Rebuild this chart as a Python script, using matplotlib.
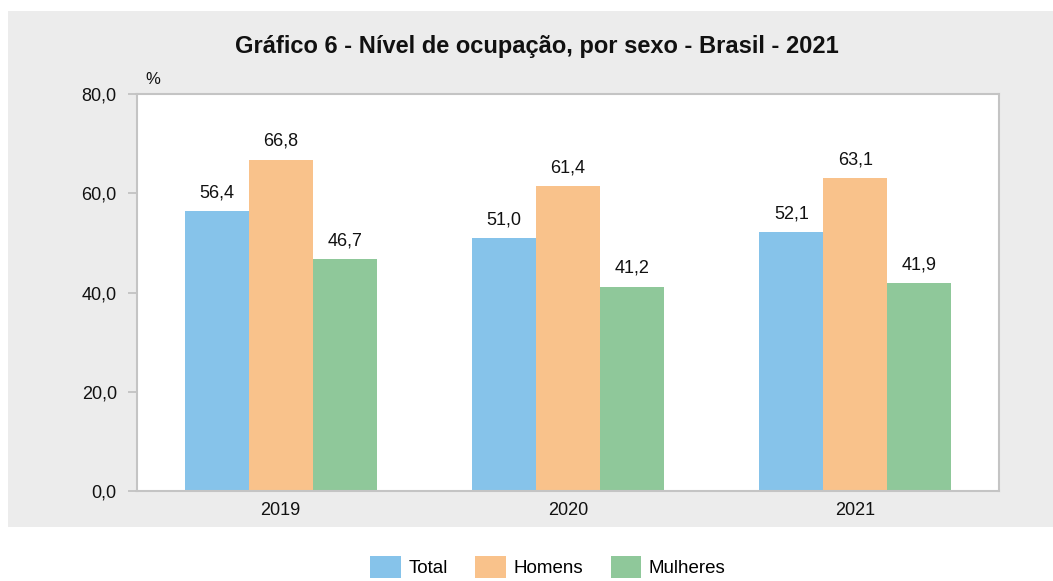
import matplotlib
matplotlib.use('Agg')
import matplotlib.pyplot as plt
from matplotlib.patches import Rectangle
import numpy as np

plt.rcParams['font.family'] = ['Liberation Sans', 'DejaVu Sans']

anos = ['2019', '2020', '2021']
total = [56.4, 51.0, 52.1]
homens = [66.8, 61.4, 63.1]
mulheres = [46.7, 41.2, 41.9]
series = ['Total', 'Homens', 'Mulheres']
cores = ['#86C3EA', '#F9C28B', '#8FC89A']
yticks = [0, 20, 40, 60, 80]


def fmt(v):
    # decimal comma, as in the source
    return '{:.1f}'.format(v).replace('.', ',')


fig = plt.figure(figsize=(10.53, 5.81), dpi=100)
fig.patch.set_facecolor('white')

# gray panel behind the chart
painel = Rectangle((8 / 1053, 1 - 527 / 581), 1 - 8 / 1053, (527 - 11) / 581,
                   transform=fig.transFigure, facecolor='#ECECEC',
                   edgecolor='none', zorder=-5)
fig.add_artist(painel)

ax = fig.add_axes([137 / 1053, 1 - 491 / 581, (999 - 137) / 1053, (491 - 94) / 581])
ax.set_zorder(2)
ax.set_facecolor('white')

x = np.arange(len(anos))
w = 0.223
for i, (vals, nome, cor) in enumerate(zip([total, homens, mulheres], series, cores)):
    pos = x + (i - 1) * w
    bars = ax.bar(pos, vals, width=w, color=cor, label=nome, zorder=2)
    for b, v in zip(bars, vals):
        ax.annotate(fmt(v), (b.get_x() + b.get_width() / 2, v),
                    xytext=(0, 7), textcoords='offset points',
                    ha='center', va='bottom', fontsize=13, color='#111111')

ax.set_xlim(-0.5, 2.5)
ax.set_ylim(0, 80)
ax.set_yticks(yticks)
ax.set_yticklabels([fmt(t) for t in yticks])
ax.set_xticks(x)
ax.set_xticklabels(anos)
ax.tick_params(axis='y', length=6.5, width=1.2, color='#BFBFBF', pad=8,
               labelsize=13, labelcolor='#111111')
ax.tick_params(axis='x', length=0, pad=8, labelsize=13, labelcolor='#111111')
for s in ax.spines.values():
    s.set_color('#C4C4C4')
    s.set_linewidth(1.5)

fig.text(145 / 1053, 1 - 80 / 581, '%', fontsize=12, ha='left', va='center', color='#111111')
fig.text(537 / 1053, 1 - 47 / 581, 'Gráfico 6 - Nível de ocupação, por sexo - Brasil - 2021',
         fontsize=17, fontweight='bold', ha='center', va='center', color='#111111')

fig.legend(loc='center', bbox_to_anchor=(548 / 1053, 1 - 567 / 581), ncol=3,
           frameon=False, fontsize=13.5, handlelength=1.65, handleheight=1.45,
           handletextpad=0.4, columnspacing=1.45)

fig.savefig('out.png', dpi=100)
